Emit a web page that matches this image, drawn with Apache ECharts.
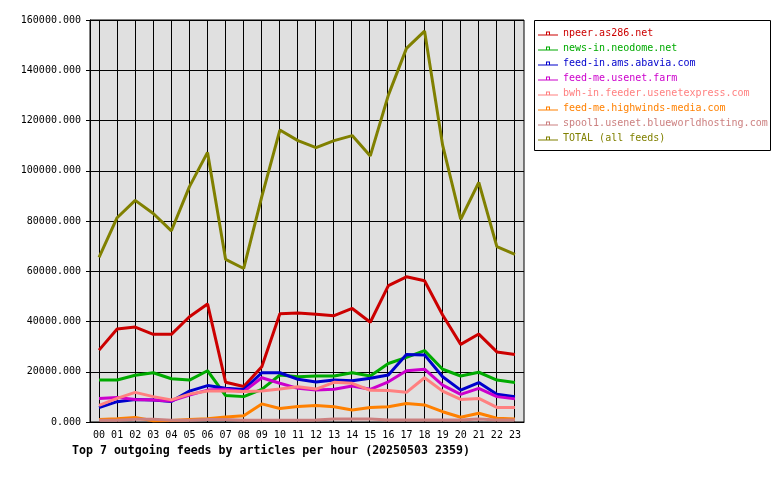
<!DOCTYPE html>
<html>
<head>
<meta charset="utf-8">
<script src="https://cdn.jsdelivr.net/npm/echarts@6/dist/echarts.min.js"></script>
<style>
  html, body { margin: 0; padding: 0; background: #fff; }
  #main { width: 780px; height: 480px; }
</style>
</head>
<body>
<div id="main"></div>
<script>
var hours = ['00','01','02','03','04','05','06','07','08','09','10','11',
             '12','13','14','15','16','17','18','19','20','21','22','23'];

var feedNames = ['npeer.as286.net', 'news-in.neodome.net', 'feed-in.ams.abavia.com',
                 'feed-me.usenet.farm', 'bwh-in.feeder.usenetexpress.com',
                 'feed-me.highwinds-media.com', 'spool1.usenet.blueworldhosting.com',
                 'TOTAL (all feeds)'];
var feedColors = ['#cc0000', '#00aa00', '#0000cc', '#cc00cc', '#ff8080', '#ff8000', '#cc8080', '#808000'];

var npeer    = [28600, 37000, 37800, 34900, 34900, 41900, 47000, 15800, 14100, 22000, 43100, 43400,
                42900, 42300, 45200, 39700, 54300, 57800, 56200, 42600, 30900, 35000, 27900, 26900];
var neodome  = [16700, 16700, 18600, 19600, 17200, 16700, 20400, 10500, 10100, 13000, 18700, 18000,
                18300, 18300, 19600, 18300, 23300, 25700, 28400, 21000, 18300, 19800, 16700, 15700];
var abavia   = [5700, 8100, 9000, 8800, 8200, 12300, 14500, 13400, 12900, 19600, 19600, 17000,
                15900, 16700, 16400, 17400, 18700, 26900, 26700, 18000, 12700, 15700, 11000, 10100];
var farm     = [9400, 9800, 9000, 8800, 8400, 10700, 12700, 13000, 12100, 17600, 15400, 13400,
                12700, 13000, 14300, 13000, 16000, 20400, 21000, 14700, 11000, 13400, 10100, 9200];
var bwh      = [6600, 9400, 11800, 10100, 8800, 11100, 12300, 12300, 12100, 12300, 13100, 14000,
                13100, 15800, 15400, 12600, 12500, 11800, 17600, 12300, 9000, 9400, 5800, 5800];
var highwinds = [1000, 1300, 1800, 500, 600, 1000, 1300, 2000, 2500, 7200, 5400, 6200,
                 6600, 6100, 4800, 5800, 6100, 7400, 6800, 4100, 1900, 3500, 1500, 1200];
var spool1   = [700, 700, 1100, 1100, 700, 700, 1000, 1000, 700, 700, 700, 700,
                800, 1200, 1200, 1200, 800, 800, 800, 800, 800, 1200, 800, 800];
var total    = [65500, 81300, 88200, 83000, 76100, 93700, 107300, 64700, 61100, 89700, 116200, 112000,
                109200, 112000, 114000, 105900, 130100, 148700, 155600, 110200, 80700, 95400, 69800, 66700];

var yTicks = [0, 20000, 40000, 60000, 80000, 100000, 120000, 140000, 160000];

var allData = [npeer, neodome, abavia, farm, bwh, highwinds, spool1, total];
var mono = 'DejaVu Sans Mono';

var series = [];
for (var i = 0; i < feedNames.length; i++) {
    series.push({
        name: feedNames[i],
        type: 'line',
        xAxisIndex: 0,
        yAxisIndex: 0,
        data: allData[i],
        color: feedColors[i],
        showSymbol: false,
        symbol: 'none',
        lineStyle: { width: 3, color: feedColors[i] }
    });
}

var legendData = feedNames.map(function (n, i) {
    return { name: n, textStyle: { color: feedColors[i] } };
});

var myChart = echarts.init(document.getElementById('main'));
var option = {
    animation: false,
    backgroundColor: '#ffffff',
    title: {
        text: 'Top 7 outgoing feeds by articles per hour (20250503 2359)',
        left: 72,
        top: 445,
        padding: 0,
        textStyle: { fontFamily: mono, fontSize: 11.6, fontWeight: 'bold', color: '#000' }
    },
    graphic: [{
        type: 'rect',
        shape: { x: 534.5, y: 20.5, width: 236, height: 130 },
        style: { fill: '#fff', stroke: '#000', lineWidth: 1 },
        z: -1
    }],
    legend: {
        orient: 'vertical',
        left: 538,
        top: 26,
        padding: 0,
        itemGap: 0,
        itemWidth: 20,
        itemHeight: 4,
        itemTextGap: 4,
        // line with a small hollow square on it
        icon: 'path://M0,3H8V0H12V3H20V4H0Z M9,1V3H11V1Z',
        textStyle: { fontFamily: mono, fontSize: 10, lineHeight: 15 },
        data: legendData
    },
    grid: [
        { left: 90, top: 20, width: 434, height: 402, show: true,
          backgroundColor: '#e0e0e0', borderColor: '#000', borderWidth: 1 },
        { left: 99, top: 20, width: 415, height: 402, show: false }
    ],
    xAxis: [
        {
            type: 'category', gridIndex: 0, data: hours, boundaryGap: true,
            axisLine: { lineStyle: { color: '#000', width: 1 } },
            axisTick: { alignWithLabel: true, length: 4, lineStyle: { color: '#000' } },
            axisLabel: { fontFamily: mono, fontSize: 10, color: '#000', margin: 8, interval: 0 },
            splitLine: { show: false }
        },
        {
            type: 'category', gridIndex: 1, data: hours, boundaryGap: false,
            axisLine: { show: false }, axisTick: { show: false }, axisLabel: { show: false },
            splitLine: { show: true, interval: 0, lineStyle: { color: '#000', width: 1 } }
        }
    ],
    yAxis: [
        {
            type: 'value', gridIndex: 0, min: yTicks[0], max: yTicks[yTicks.length - 1], interval: 20000,
            axisLine: { show: true, lineStyle: { color: '#000', width: 1 } },
            axisTick: { show: true, length: 4, lineStyle: { color: '#000' } },
            axisLabel: { fontFamily: mono, fontSize: 10, color: '#000', margin: 9,
                         formatter: function (v) { return v.toFixed(3); } },
            splitLine: { show: true, lineStyle: { color: '#000', width: 1 } }
        },
        { type: 'value', gridIndex: 1, min: 0, max: 160000, show: false }
    ],
    series: series
};
myChart.setOption(option);
</script>
</body>
</html>
